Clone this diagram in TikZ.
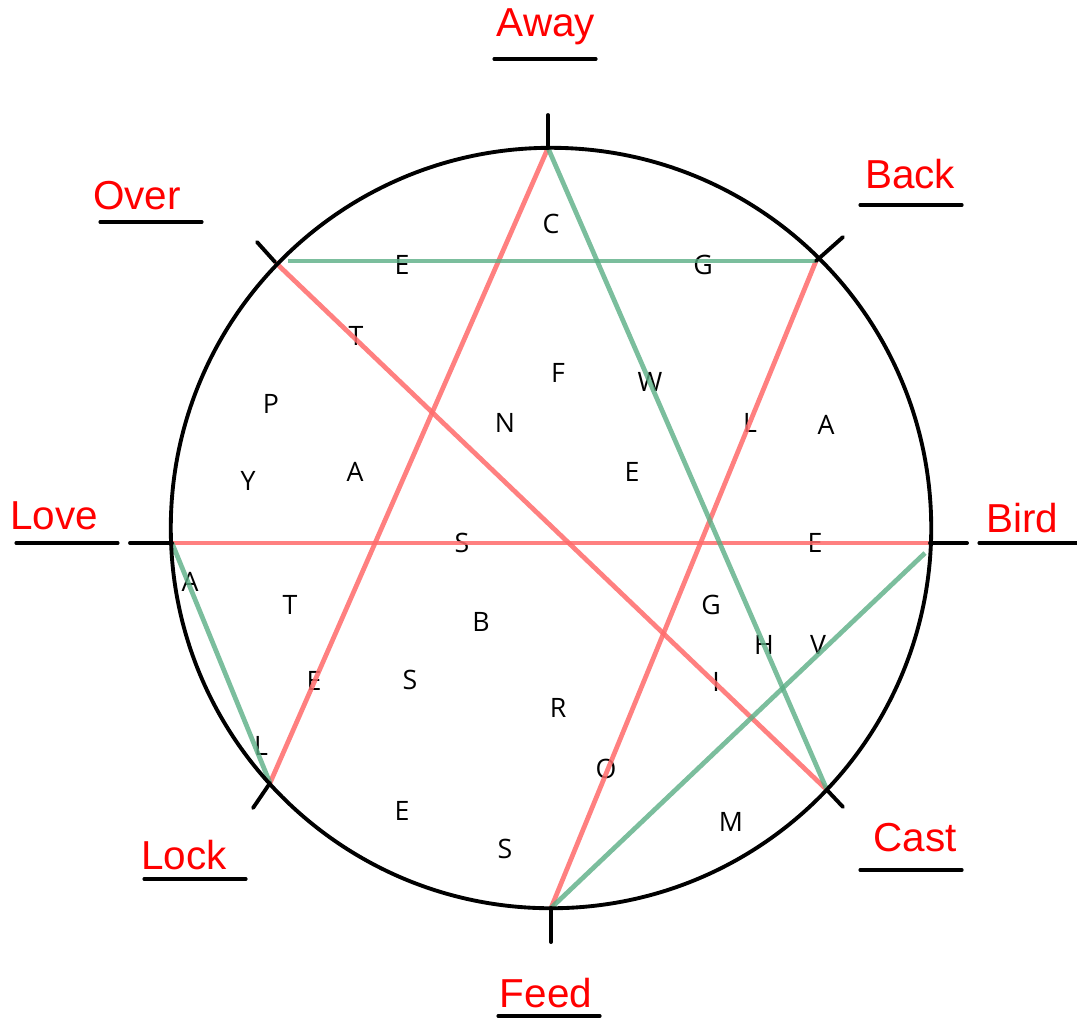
\documentclass[tikz,border=0pt]{standalone}
\usepackage{fontspec}
\setmainfont{Open Sans}
\newfontfamily\labelfont{Liberation Sans}

\begin{document}
\begin{tikzpicture}[x=0.01cm, y=-0.01cm,
    letter/.style={font=\fontsize{7.6}{8}\selectfont, inner sep=0pt},
    dirlabel/.style={font=\labelfont\fontsize{11.5}{12}\selectfont, text=red, inner sep=0pt},
    uline/.style={line width=0.9pt, line cap=round},
    tick/.style={line width=1.1pt, line cap=round}]
    % Define colours
    \definecolor{redLine}{HTML}{FF6A6A}
    \definecolor{greenLine}{HTML}{5AAE85}

    % Fix the picture size
    \useasboundingbox (0,0) rectangle (1077,1017);

    % Points on the circle
    \coordinate (away) at (548,148);
    \coordinate (back) at (816,261);
    \coordinate (bird) at (930,543);
    \coordinate (cast) at (827,790);
    \coordinate (feed) at (551,908);
    \coordinate (lock) at (270,783);
    \coordinate (love) at (172,543);
    \coordinate (over) at (275,262);

    % Ends of lines that stop off the circle
    \coordinate (birdEnd) at (942,543);
    \coordinate (birdIn) at (925,553);
    \coordinate (overIn) at (288,261);

    % Letters
    \foreach \x/\y/\t [count=\i] in {551/224/C, 402/265/E, 703/265/G, 356/336/T,
        558/373/F, 650/382/W, 271/404/P, 505/423/N, 750/423/L, 826/425/A,
        248/481/Y, 355/472/A, 632/472/E, 462/543/S, 815/543/E, 190/582/A,
        290/605/T, 481/622/B, 711/605/G, 764/645/H, 818/645/V, 314/681/E,
        410/680/S, 716/682/I, 558/708/R, 261/746/L, 606/769/O, 402/811/E,
        731/822/M, 505/849/S}
        \node[letter] (ch\i) at (\x,\y) {\t};

    % Red lines
    \draw[redLine, line width=1.35pt, opacity=0.85] (away) -- (lock);
    \draw[redLine, line width=1.35pt, opacity=0.85] (over) -- (cast);
    \draw[redLine, line width=1.35pt, opacity=0.85] (love) -- (birdEnd);
    \draw[redLine, line width=1.35pt, opacity=0.85] (back) -- (feed);

    % Green lines
    \draw[greenLine, line width=1.35pt, opacity=0.8] (away) -- (cast);
    \draw[greenLine, line width=1.35pt, opacity=0.8] (overIn) -- (back);
    \draw[greenLine, line width=1.35pt, opacity=0.8] (love) -- (lock);
    \draw[greenLine, line width=1.35pt, opacity=0.8] (feed) -- (birdIn);

    % Draw circle
    \draw[line width=1.1pt] (551,528) circle[radius=3.8cm];

    % Draw ticks
    \draw[tick] (away) -- (548,115);
    \draw[tick] (back) -- (843,237);
    \draw[tick] (bird) -- (967,543);
    \draw[tick] (cast) -- (843,807);
    \draw[tick] (feed) -- (551,942);
    \draw[tick] (lock) -- (253,808);
    \draw[tick] (love) -- (130,543);
    \draw[tick] (over) -- (257,242);

    % Labels with underlines
    \foreach \x/\y/\t/\c/\u [count=\i] in {546/27/Away/545/59, 910/174/Back/911/205,
        1022/518/Bird/1030/543, 915/838/Cast/911/870, 546/993/Feed/549/1016,
        184/855/Lock/195/879, 54/516/Love/67/543, 137/196/Over/151/222}
    {
        \node[dirlabel] (lbl\i) at (\x,\y) {\t};
        \draw[uline] (\c-51,\u) -- (\c+51,\u);
    }

\end{tikzpicture}
\end{document}
